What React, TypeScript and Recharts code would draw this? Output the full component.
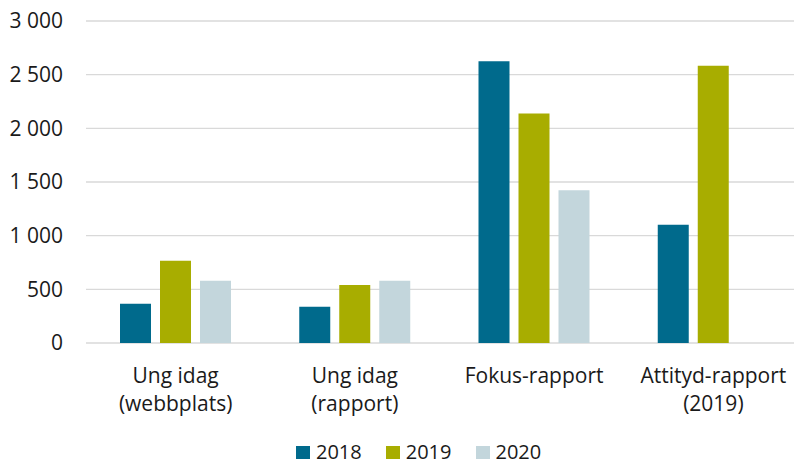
import React from 'react';
import { BarChart, Bar, XAxis, YAxis, CartesianGrid } from 'recharts';

const categories = ['Ung idag\n(webbplats)', 'Ung idag\n(rapport)', 'Fokus-rapport', 'Attityd-rapport\n(2019)'];
const values2018 = [366, 338, 2624, 1102];
const values2019 = [767, 540, 2139, 2584];
const values2020: (number | null)[] = [580, 580, 1422, null];
const yTicks = [0, 500, 1000, 1500, 2000, 2500, 3000];

const seriesNames = ['2018', '2019', '2020'];
const seriesColors = ['#006A8C', '#A8AD00', '#C3D6DC'];

const data = categories.map((name, i) => ({
    name,
    '2018': values2018[i],
    '2019': values2019[i],
    '2020': values2020[i],
}));

const FONT = '"Open Sans", sans-serif';

const formatThousands = (v: number) => String(v).replace(/\B(?=(\d{3})+(?!\d))/g, ' ');

const CategoryTick = (props: any) => {
    const { x, payload } = props;
    const lines = String(payload.value).split('\n');
    return (
        <text x={x} y={383} textAnchor="middle" fontFamily={FONT} fontSize={21} fill="#1a1a1a">
            {lines.map((line, i) => (
                <tspan key={i} x={x} dy={i === 0 ? 0 : 28}>
                    {line}
                </tspan>
            ))}
        </text>
    );
};

const App: React.FC = () => {
    return (
        <div
            style={{
                position: 'fixed',
                left: 0,
                top: 0,
                width: 794,
                height: 466,
                overflow: 'hidden',
                background: '#fff',
            }}
        >
            <BarChart
                width={803}
                height={466}
                data={data}
                margin={{ top: 21, right: 0, bottom: 0, left: 0 }}
                barSize={31}
                barGap={9}
            >
                <CartesianGrid vertical={false} stroke="#D9D9D9" strokeWidth={1.3} />
                <XAxis
                    dataKey="name"
                    height={123}
                    axisLine={false}
                    tickLine={false}
                    tick={<CategoryTick />}
                    interval={0}
                />
                <YAxis
                    width={86}
                    domain={[0, 3000]}
                    ticks={yTicks}
                    axisLine={false}
                    tickLine={false}
                    tickSize={0}
                    tickMargin={23}
                    tickFormatter={formatThousands}
                    tick={{ fontFamily: FONT, fontSize: 21, fill: '#1a1a1a' }}
                />
                {seriesNames.map((s, i) => (
                    <Bar key={s} dataKey={s} fill={seriesColors[i]} isAnimationActive={false} />
                ))}
            </BarChart>
            {/* legend kept just inside the bottom edge */}
            <div
                style={{
                    position: 'absolute',
                    left: 296,
                    top: 442,
                    display: 'flex',
                    alignItems: 'center',
                    fontFamily: FONT,
                    fontSize: 20,
                    color: '#1a1a1a',
                    lineHeight: '20px',
                }}
            >
                {seriesNames.map((s, i) => (
                    <div key={s} style={{ display: 'flex', alignItems: 'center', marginRight: 24 }}>
                        <span
                            style={{
                                display: 'inline-block',
                                width: 14,
                                height: 13,
                                background: seriesColors[i],
                                marginRight: 6,
                            }}
                        />
                        <span>{s}</span>
                    </div>
                ))}
            </div>
        </div>
    );
};

export default App;
